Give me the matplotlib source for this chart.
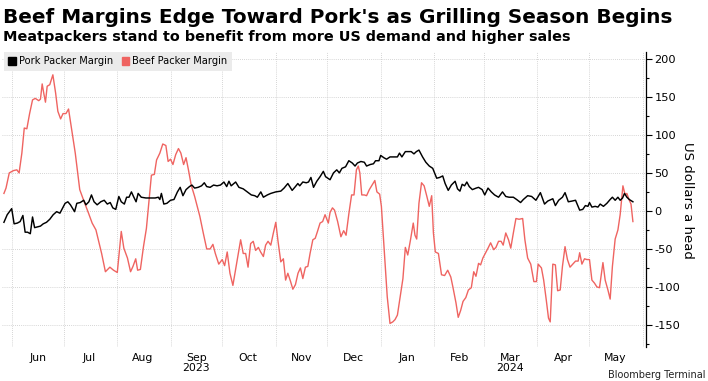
import matplotlib
matplotlib.use("Agg")
import matplotlib.pyplot as plt
import matplotlib.dates as mdates
import matplotlib.patches as mpatches
from matplotlib.ticker import MultipleLocator, FixedLocator, NullFormatter
import pandas as pd
import numpy as np

# ---------------- data ----------------
START = pd.Timestamp("2023-06-01")

# Beef packer margin: days after 2023-06-01, US$ per head
beef_days = [
    -4.7, -3.5, -1.6, 0.8, 2.8, 4.1, 5.7, 7.1, 8.6, 10.2,
    11.9, 13.5, 15.5, 16.5, 17.5, 18.4, 19.4, 20.4, 21.9, 23.7,
    25.3, 26.6, 28.2, 29.6, 31.3, 32.8, 34.6, 36.7, 39.3, 42.2,
    44.4, 46.5, 48.7, 52, 54.2, 56.8, 58.9, 61.1, 63.4, 64.9,
    67, 68.8, 70.2, 71.8, 72.9, 74.5, 76.3, 78, 79.5, 80.9,
    82.6, 83.9, 85.8, 87.5, 89.3, 90.6, 92, 93.4, 95, 96.6,
    98, 99.6, 101, 102.4, 104, 106, 109, 111, 113, 115,
    116.6, 118, 120, 122, 123.4, 124.9, 126.5, 128.2, 130.4, 132.7,
    134.2, 135.6, 137, 138.5, 140, 141.4, 143, 144.3, 145.9, 147.2,
    148.6, 150.2, 151.7, 153.1, 154.4, 156, 157.5, 158.8, 160.1, 161.7,
    163, 164.5, 166, 167.4, 168.8, 170.3, 171.7, 173, 174.6, 176,
    177.3, 178.8, 180.3, 181.7, 183.6, 184.6, 186, 187.2, 189, 190.9,
    192.5, 193.9, 195.5, 197.1, 198.5, 199.9, 201, 201.9, 203, 204.5,
    205.8, 207.4, 209, 210.6, 211.8, 213.4, 214.4, 216.4, 217.8, 219.4,
    221, 222.3, 223.7, 225.3, 226.9, 228.3, 229.7, 231.3, 232.9, 233.9,
    234.9, 236.2, 237.7, 239.2, 240.8, 242.2, 243.6, 244.6, 245.7, 247.5,
    249.3, 251.1, 252.9, 254.7, 255.9, 257.7, 259, 260.4, 261.8, 263.4,
    264.9, 266.6, 268, 269.3, 270.8, 272, 273.3, 274.7, 276.3, 277.8,
    279.6, 280.9, 282.4, 283.9, 285.1, 286.6, 288.2, 289.5, 291, 292.5,
    294.3, 296.4, 297.7, 299.3, 301.1, 302.9, 304.4, 305.4, 307.3, 308.6,
    310.1, 311.4, 312.4, 313.9, 315.4, 316.7, 318.2, 319.5, 321, 322.4,
    323.9, 325.5, 327.1, 328.6, 329.5, 330.8, 332.3, 333.7, 335.2, 336.6,
    338.1, 339.5, 341, 343, 344.3, 345.9, 347.2, 348.5, 350.1, 351.7,
    353, 354.6, 355.9, 356.9, 358.3, 359.3, 360.4,
]
beef_vals = [
    23, 30, 50, 53, 54, 50, 76, 109, 108, 128,
    146, 148, 145, 147, 167, 155, 143, 164, 166, 179,
    155, 131, 121, 128, 128, 134, 107, 76, 28, 10,
    -3, -16, -25, -56, -80, -74, -78, -81, -27, -49,
    -62, -80, -73, -63, -78, -77, -47, -23, 14, 47,
    48, 67, 76, 88, 86, 65, 68, 61, 74, 82,
    76, 61, 70, 54, 34, 19, -7, -29, -50, -50,
    -44, -56, -70, -64, -72, -54, -82, -98, -69, -38,
    -56, -56, -74, -43, -40, -52, -48, -54, -60, -45,
    -40, -45, -29, -15, -40, -67, -63, -91, -82, -93,
    -103, -97, -82, -75, -89, -74, -73, -56, -38, -36,
    -27, -16, -14, -5, -16, -2, 4, 1, -14, -34,
    -26, -32, -4, 21, 21, 54, 59, 50, 21, 21,
    20, 28, 34, 40, 25, 22, 6, -64, -113, -148,
    -146, -143, -137, -113, -89, -48, -58, -38, -16, -32,
    -37, 10, 37, 33, 19, 6, 20, -29, -54, -56,
    -84, -85, -78, -87, -100, -121, -140, -131, -119, -114,
    -104, -101, -80, -86, -69, -71, -62, -56, -49, -42,
    -51, -48, -40, -40, -45, -29, -38, -49, -29, -10,
    -11, -10, -38, -62, -70, -93, -93, -70, -75, -91,
    -117, -141, -146, -70, -71, -105, -104, -73, -47, -64,
    -74, -70, -66, -66, -55, -70, -63, -64, -64, -91,
    -95, -100, -101, -68, -91, -104, -116, -73, -37, -25,
    -5, 33, 21, 23, 14, 9, -14,
]

# Pork packer margin: days after 2023-06-01, US$ per head
pork_days = [
    -4.7, -2.8, -0.2, 1.2, 3.1, 4.7, 6.3, 7.6, 9, 10.6,
    11.9, 13.1, 14.9, 16.5, 18.1, 20, 21.9, 23.9, 25.9, 27.8,
    29.2, 30.8, 32.4, 33.9, 36.3, 37.6, 39.6, 41.6, 42.9, 44.6,
    46.1, 47.6, 49.4, 51.5, 53.5, 55.3, 57, 58.5, 60.2, 62,
    63.4, 65.2, 66.5, 67.9, 69.3, 70.5, 72, 73.2, 75, 77.7,
    80.4, 83.1, 84.9, 85.8, 86.7, 88.1, 89.9, 92, 94, 96,
    97.6, 99.2, 101, 103, 104.4, 106, 108, 110, 111.6, 113,
    115, 117, 119, 121, 123, 124.6, 125.9, 127.2, 129.8, 131.7,
    134.2, 136.6, 138.9, 140.9, 142.4, 144.4, 145.9, 148.2, 150.2, 153.1,
    156, 157.9, 160.1, 162.6, 164.5, 165.9, 167, 168.8, 170.8, 172.1,
    173.5, 175, 176.9, 178.8, 180.7, 182, 184.6, 186.6, 188.5, 190,
    191.5, 193.6, 195.5, 197.5, 199.1, 200.5, 202.5, 204.5, 205.8, 207.9,
    209.8, 211, 213, 214, 215.8, 217.4, 219.4, 221.3, 223.7, 224.9,
    226.3, 228.3, 229.7, 231.7, 233.3, 234.7, 236.2, 238.3, 240.2, 242.2,
    244.2, 246.5, 248.2, 250, 251.4, 253.2, 255, 257.2, 258.6, 260,
    261.3, 262.7, 264, 265.4, 267.2, 269.4, 270.8, 272.9, 274.4, 276.3,
    278.2, 280.1, 282.4, 284.7, 286.6, 288.5, 291, 292.9, 295.2, 296.8,
    299.3, 301.6, 304.1, 306.7, 309.1, 311, 313.9, 315.4, 317.3, 319.5,
    321, 322.9, 325.2, 327.1, 329.5, 331.3, 332.8, 334.3, 335.2, 336.6,
    338.5, 340.1, 341.4, 343.3, 345.3, 347.2, 348.5, 350.1, 351.7, 353,
    354.4, 355.5, 356.9, 358.3, 360.4,
]
pork_vals = [
    -15, -5, 3, -17, -16, -14, -6, -28, -28, -30,
    -8, -22, -21, -20, -17, -15, -11, -5, -1, -3,
    3, 10, 12, 8, -1, 10, 11, 14, 8, 12,
    21, 12, 8, 12, 14, 9, 11, 4, 2, 19,
    12, 9, 18, 18, 25, 19, 12, 23, 18, 17,
    17, 17, 18, 15, 23, 9, 10, 14, 15, 25,
    31, 20, 28, 32, 34, 30, 31, 33, 37, 32,
    31, 34, 33, 34, 38, 32, 39, 33, 38, 31,
    29, 25, 21, 20, 18, 25, 18, 21, 23, 25,
    26, 30, 36, 27, 32, 36, 33, 38, 37, 38,
    44, 31, 39, 45, 52, 45, 41, 50, 54, 50,
    56, 58, 66, 63, 59, 63, 65, 64, 59, 61,
    62, 66, 66, 73, 70, 68, 71, 71, 71, 76,
    71, 78, 78, 78, 75, 78, 80, 71, 64, 59,
    56, 43, 44, 46, 36, 27, 34, 39, 29, 26,
    35, 33, 38, 32, 28, 30, 31, 28, 21, 30,
    25, 21, 18, 25, 19, 18, 18, 15, 11, 15,
    20, 19, 14, 24, 9, 13, 16, 7, 14, 18,
    24, 12, 13, 14, 1, 2, 7, 6, 11, 5,
    6, 5, 9, 6, 10, 15, 18, 14, 18, 14,
    17, 23, 18, 15, 12,
]

series_names = ["Pork Packer Margin", "Beef Packer Margin"]
series_colors = ["#000000", "#ef6461"]
title = "Beef Margins Edge Toward Pork's as Grilling Season Begins"
subtitle = "Meatpackers stand to benefit from more US demand and higher sales"
ylabel = "US dollars a head"
source = "Bloomberg Terminal"
y_ticks = [-150, -100, -50, 0, 50, 100, 150, 200]
x_start, x_end = "2023-05-26", "2024-06-03"
y_min, y_max = -179, 209

# ---------------- figure ----------------
W, H = 708, 381
fig = plt.figure(figsize=(W / 100, H / 100), dpi=100)
fig.patch.set_facecolor("white")

left_px, right_px, top_px, bottom_px = 1.7, 646, 52, 347
ax = fig.add_axes([left_px / W, 1 - bottom_px / H,
                   (right_px - left_px) / W, (bottom_px - top_px) / H])

pork_dates = START + pd.to_timedelta(pork_days, unit="D")
beef_dates = START + pd.to_timedelta(beef_days, unit="D")

ax.plot(beef_dates, beef_vals, color=series_colors[1], lw=1.0, zorder=3,
        solid_joinstyle="round")
ax.plot(pork_dates, pork_vals, color=series_colors[0], lw=1.05, zorder=4,
        solid_joinstyle="round")

ax.set_xlim(pd.Timestamp(x_start), pd.Timestamp(x_end))
ax.set_ylim(y_min, y_max)

# spines
for s in ["left", "top", "bottom"]:
    ax.spines[s].set_visible(False)
ax.spines["right"].set_color("black")
ax.spines["right"].set_linewidth(0.9)

# y axis on the right
ax.yaxis.tick_right()
ax.yaxis.set_major_locator(FixedLocator(y_ticks))
ax.yaxis.set_minor_locator(MultipleLocator(25))
ax.set_yticklabels([str(v) for v in y_ticks])
ax.tick_params(axis="y", which="major", length=4, width=0.8, pad=2,
               labelsize=8.2, colors="black", direction="out")
ax.tick_params(axis="y", which="minor", length=2.5, width=0.8,
               direction="out")

# x axis: gridlines at month starts, labels mid-month
ax.xaxis.set_major_locator(mdates.MonthLocator())
ax.xaxis.set_major_formatter(NullFormatter())
ax.xaxis.set_minor_locator(mdates.MonthLocator(bymonthday=16))

def month_fmt(x, pos=None):
    d = mdates.num2date(x)
    lab = d.strftime("%b")
    if d.month in (9, 3):
        lab += "\n" + str(d.year)
    return lab

ax.xaxis.set_minor_formatter(matplotlib.ticker.FuncFormatter(month_fmt))
ax.tick_params(axis="x", which="both", length=0, pad=4, labelsize=7.8,
               colors="black")
for t in ax.xaxis.get_minorticklabels():
    t.set_linespacing(1.05)

ax.grid(True, which="major", axis="both", color="#c8c8c8", lw=0.6,
        linestyle=(0, (1, 1.5)))
ax.set_axisbelow(True)

# legend
handles = [mpatches.Patch(color=c, label=n) for n, c in zip(series_names, series_colors)]
leg = ax.legend(handles=handles, loc="upper left", ncol=2, fontsize=7.1,
                frameon=True, fancybox=False, borderaxespad=0.0,
                bbox_to_anchor=(0.0035, 1.0),
                handlelength=0.75, handleheight=0.75, handletextpad=0.3,
                columnspacing=0.9, borderpad=0.45)
leg.get_frame().set_facecolor("#ebebeb")
leg.get_frame().set_edgecolor("none")
leg.get_frame().set_alpha(1)
leg.set_zorder(5)

# y label on right
fig.text(688 / W, 1 - 200 / H, ylabel, rotation=-90, ha="center", va="center",
         fontsize=9.5)

# titles
t1 = fig.text(3 / W, 1 - 8 / H, title, fontsize=13, fontweight="bold",
              ha="left", va="top")
t2 = fig.text(3 / W, 1 - 30 / H, subtitle, fontsize=10.5, fontweight="bold",
              ha="left", va="top")

# fit title widths to reference
fig.canvas.draw()
r = fig.canvas.get_renderer()
for t, target in [(t1, 665), (t2, 570)]:
    w = t.get_window_extent(r).width
    t.set_fontsize(t.get_fontsize() * target / w)

# source line, bottom right (kept fully inside the canvas)
fig.text(706 / W, 1 - 380 / H, source, fontsize=7, ha="right", va="bottom",
         color="#222222")

fig.savefig("out.png", dpi=100, facecolor="white")
